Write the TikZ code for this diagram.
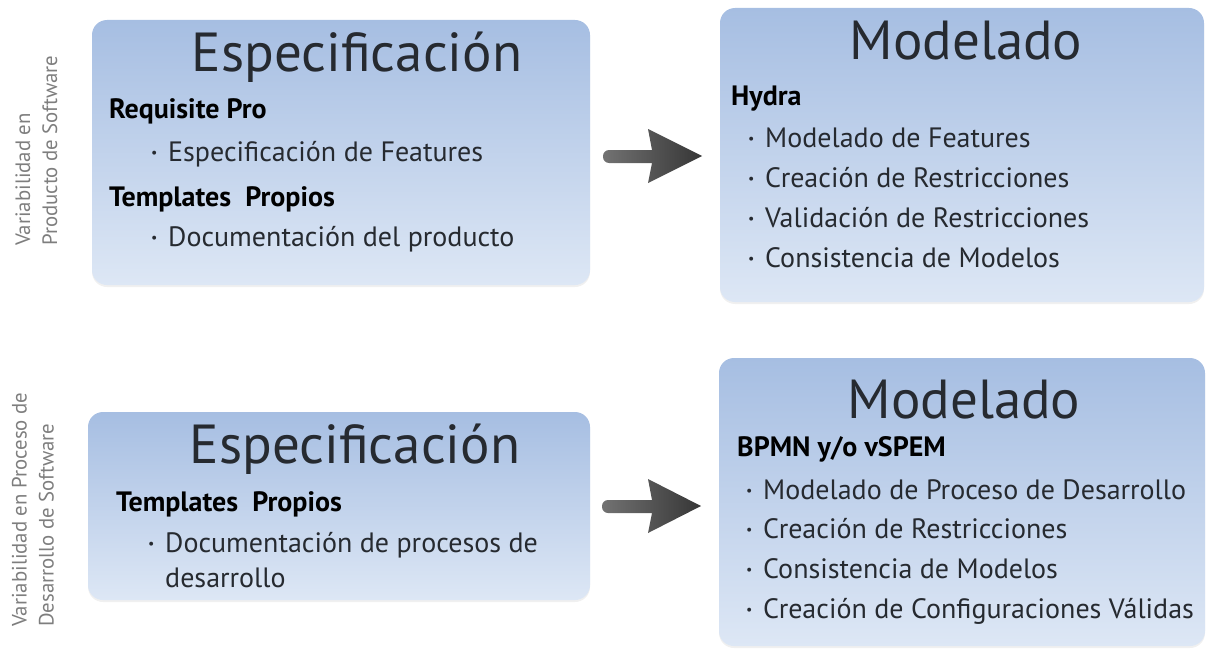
\documentclass[tikz,border=0pt]{standalone}
\usepackage{fontspec}
\setmainfont{PT Sans}
\usetikzlibrary{shadows}
\definecolor{boxtop}{HTML}{A6BEE2}
\definecolor{boxbot}{HTML}{DDE7F5}
\definecolor{txt}{HTML}{262A30}
\definecolor{side}{HTML}{7E7E7E}
\definecolor{arrL}{HTML}{727272}
\definecolor{arrR}{HTML}{363636}
\newcommand\bul{\makebox[17pt][l]{\raisebox{4pt}{\fontsize{14}{14}\selectfont •}}}
\tikzset{
  panel/.style={rounded corners=15pt, top color=boxtop, bottom color=boxbot, draw=none,
     drop shadow={opacity=0.12, shadow xshift=0pt, shadow yshift=-2pt}},
  title/.style={font=\fontsize{55}{60}\selectfont, text=txt, anchor=base, inner sep=0pt},
  headtxt/.style={font=\bfseries\fontsize{28}{32}\selectfont, text=black, anchor=base west, inner sep=0pt},
  itemtxt/.style={font=\fontsize{28}{32}\selectfont, text=txt, anchor=base west, inner sep=0pt},
  sidetxt/.style={font=\fontsize{20.8}{27}\selectfont, text=side, rotate=90, align=left, anchor=west, inner sep=0pt},
  arrfill/.style={left color=arrL, right color=arrR}
}
\begin{document}
\begin{tikzpicture}[x=1pt,y=-1pt]
\useasboundingbox (0,0) rectangle (1206,650);
% panels
\node[panel, minimum width=498pt, minimum height=265pt] (b1) at (341,152.5) {};
\node[panel, minimum width=484pt, minimum height=294pt] (b2) at (962,155) {};
\node[panel, minimum width=502pt, minimum height=188pt] (b3) at (339,506) {};
\node[panel, minimum width=486pt, minimum height=288pt] (b4) at (962,502) {};
% side labels
\node[sidetxt] (s1) at (36.5,246) {Variabilidad en\\Producto de Software};
\node[sidetxt] (s2) at (33,627) {Variabilidad en Proceso de\\Desarrollo de Software};
% box 1
\node[title] (t1) at (357,72) {Especificación};
\node[headtxt] (h1a) at (109,118) {Requisite Pro};
\node[itemtxt] (i1a) at (151,161) {\bul Especificación de Features};
\node[headtxt] (h1b) at (109,206) {Templates\ \ Propios};
\node[itemtxt] (i1b) at (151,246) {\bul Documentación del producto};
% box 2
\node[title] (t2) at (966,60) {Modelado};
\node[headtxt] (h2) at (731,106) {Hydra};
\node[itemtxt] (i2a) at (748,147) {\bul Modelado de Features};
\node[itemtxt] (i2b) at (748,187) {\bul Creación de Restricciones};
\node[itemtxt] (i2c) at (748,227) {\bul Validación de Restricciones};
\node[itemtxt] (i2d) at (748,267) {\bul Consistencia de Modelos};
% box 3
\node[title] (t3) at (355,463) {Especificación};
\node[headtxt] (h3) at (116,511) {Templates\ \ Propios};
\node[itemtxt] (i3a) at (148,552) {\bul Documentación de procesos de};
\node[itemtxt] (i3b) at (165,587) {desarrollo};
% box 4
\node[title] (t4) at (964,418) {Modelado};
\node[headtxt] (h4) at (737,456) {BPMN y/o vSPEM};
\node[itemtxt] (i4a) at (746,499) {\bul Modelado de Proceso de Desarrollo};
\node[itemtxt] (i4b) at (746,538) {\bul Creación de Restricciones};
\node[itemtxt] (i4c) at (746,578) {\bul Consistencia de Modelos};
\node[itemtxt] (i4d) at (746,618) {\bul Creación de Configuraciones Válidas};
% arrows
\shade[arrfill] (652,150) -- (648,129) -- (702,156) -- (648,183) -- (652,163)
   {[rounded corners=6pt] -- (603,163) -- (603,150)} -- cycle;
\shade[arrfill] (652,500) -- (648,479) -- (701,506) -- (648,533) -- (652,513)
   {[rounded corners=6pt] -- (602,513) -- (602,500)} -- cycle;
\end{tikzpicture}
\end{document}
